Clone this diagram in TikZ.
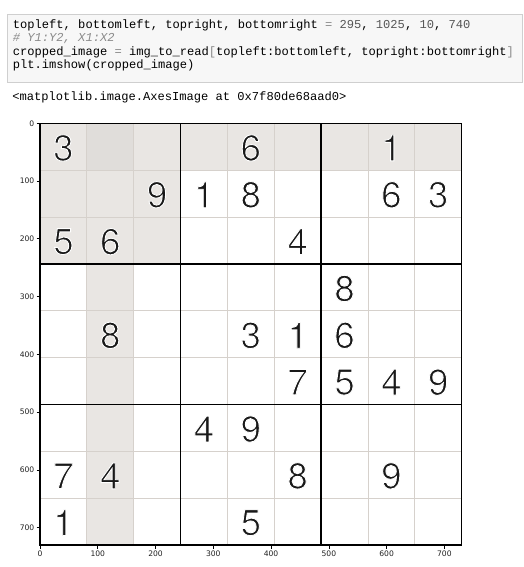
\documentclass[tikz,border=0pt]{standalone}
\usepackage{fontspec}
\newfontfamily\codefont{Liberation Mono}
\newfontfamily\tickfont{DejaVu Sans}
\newfontfamily\digitfont{TeX Gyre Heros}
\definecolor{cellgray}{HTML}{E9E6E3}
\definecolor{celldark}{HTML}{E0DDDA}
\definecolor{gridgray}{HTML}{D6D1CC}
\definecolor{codebg}{HTML}{F7F7F7}
\definecolor{codeborder}{HTML}{CFCFCF}
\definecolor{numgray}{HTML}{555555}
\definecolor{eqgray}{HTML}{8A8A8A}
\definecolor{commentgray}{HTML}{8A8A8A}
\definecolor{ticktext}{HTML}{222222}
\newcommand\thindigit[1]{\special{pdf:literal direct 2 Tr 0.9 w 1 1 1 RG}#1\special{pdf:literal direct 0 Tr 0 0 0 RG}}
\tikzset{
  codeline/.style={anchor=base west, inner sep=0pt, font=\codefont\fontsize{12.1}{13}\selectfont, text=black},
  digit/.style={inner sep=0pt, font=\digitfont\fontsize{36.5}{36}\selectfont, text=black!90},
  thinline/.style={draw=gridgray, line width=0.9pt},
  thickline/.style={draw=black, line width=1.8pt},
  tickmark/.style={draw=black, line width=0.7pt},
  ticklabel/.style={inner sep=0pt, font=\tickfont\fontsize{7.6}{8}\selectfont, text=ticktext},
}
\begin{document}
\begin{tikzpicture}[x=1pt,y=-1pt]
\useasboundingbox (0,0) rectangle (524,567);
\fill[white] (0,0) rectangle (524,567);
% code cell
\draw[fill=codebg, draw=codeborder, line width=0.8pt] (7,14) rectangle (522,82);
\node[codeline] (l1) at (12.7,28.6) {topleft, bottomleft, topright, bottomright \textcolor{eqgray}{=} \textcolor{numgray}{295}, \textcolor{numgray}{1025}, \textcolor{numgray}{10}, \textcolor{numgray}{740}};
\node[codeline, text=commentgray] (l2) at (12.7,41.9) {\itshape \# Y1:Y2, X1:X2};
\node[codeline] (l3) at (12.7,55.2) {cropped\_image \textcolor{eqgray}{=} img\_to\_read\textcolor{eqgray}{[}topleft:bottomleft, topright:bottomright\textcolor{eqgray}{]}};
\node[codeline] (l4) at (12.7,68.5) {plt.imshow(cropped\_image)};
\node[codeline] (out) at (12.2,100.6) {<matplotlib.image.AxesImage at 0x7f80de68aad0>};
% sudoku image
\def\C{46.85}
\fill[cellgray] (40,123.3) rectangle ++(9*\C,\C);
\fill[cellgray] (40,123.3) rectangle ++(3*\C,3*\C);
\fill[cellgray] (40+\C,123.3) rectangle ++(\C,9*\C);
\fill[celldark] (40+\C,123.3) rectangle ++(\C,\C);
\foreach \i in {1,2,4,5,7,8}{
  \draw[thinline] (40+\i*\C,123.3) -- ++(0,9*\C);
  \draw[thinline] (40,123.3+\i*\C) -- ++(9*\C,0);
}
\foreach \i in {3,6}{
  \draw[thickline] (40+\i*\C,123.3) -- ++(0,9*\C);
  \draw[thickline] (40,123.3+\i*\C) -- ++(9*\C,0);
}
\draw[draw=black, line width=1.5pt] (40,123.3) rectangle ++(9*\C,9*\C);
\foreach \r/\c/\d in {0/0/3,0/4/6,0/7/1,
  1/2/9,1/3/1,1/4/8,1/7/6,1/8/3,
  2/0/5,2/1/6,2/5/4,
  3/6/8,
  4/1/8,4/4/3,4/5/1,4/6/6,
  5/5/7,5/6/5,5/7/4,5/8/9,
  6/3/4,6/4/9,
  7/0/7,7/1/4,7/5/8,7/7/9,
  8/0/1,8/4/5}{
  \node[digit] (d\r\c) at (40+\c*\C+0.5*\C, 123.3+\r*\C+0.5*\C+1.2) {\thindigit{\d}};
}
% ticks
\foreach \v in {0,100,...,700}{
  \draw[tickmark] (36.5,123.3+\v*0.5777) -- (40,123.3+\v*0.5777);
  \node[ticklabel, anchor=east] (yt\v) at (34.5,123.3+\v*0.5777) {\v};
  \draw[tickmark] (40+\v*0.5777,545) -- (40+\v*0.5777,548.5);
  \node[ticklabel, anchor=north] (xt\v) at (40+\v*0.5777,551) {\v};
}
\end{tikzpicture}
\end{document}
